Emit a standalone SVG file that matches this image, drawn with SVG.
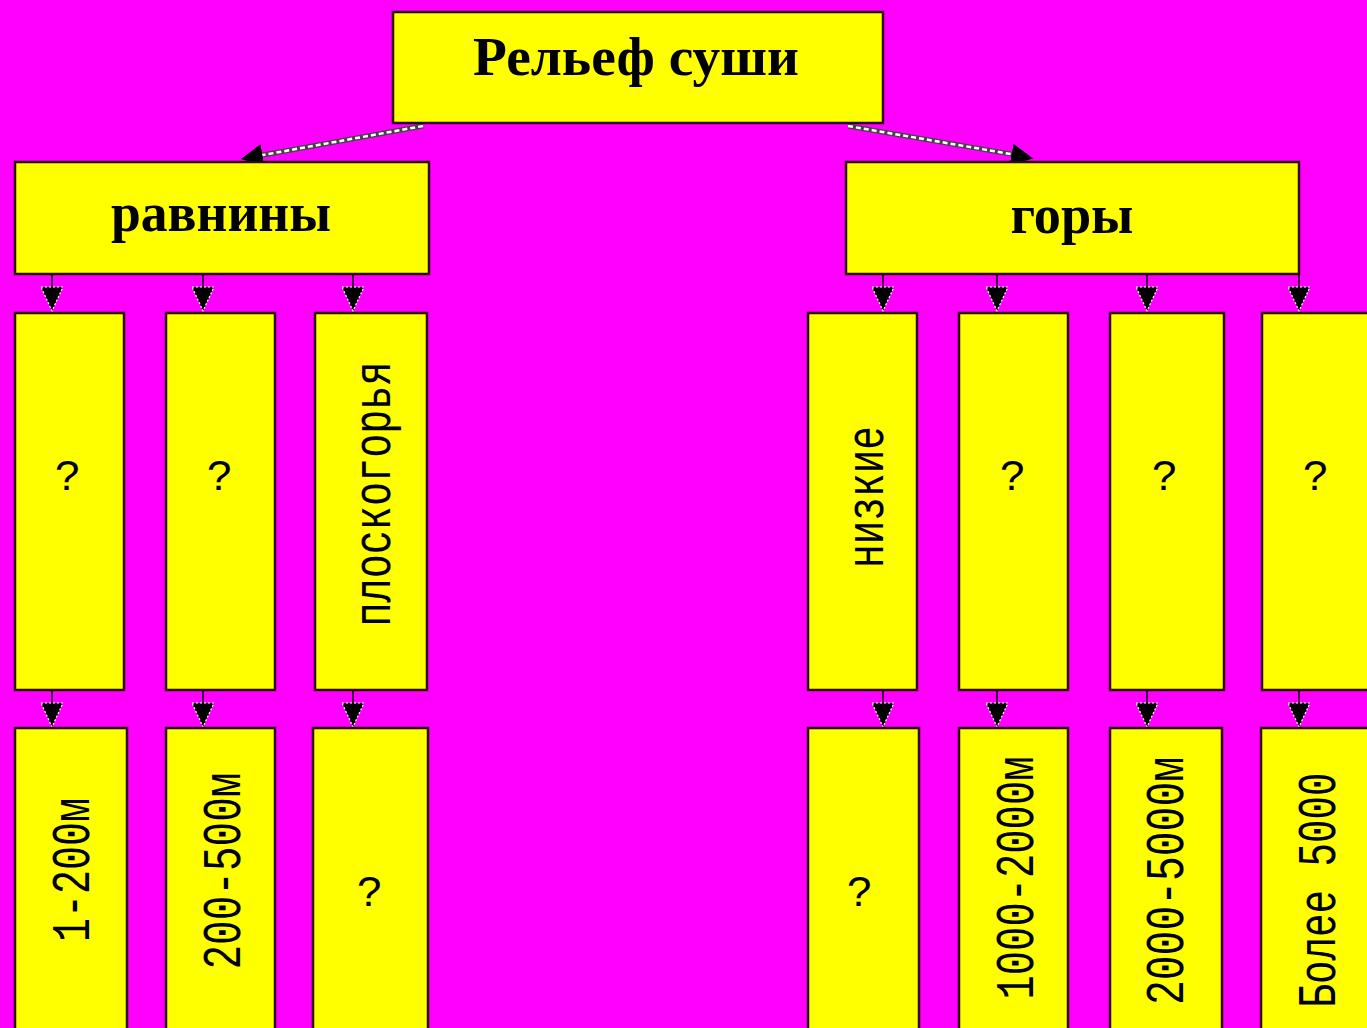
<svg xmlns="http://www.w3.org/2000/svg" width="1367" height="1028" viewBox="0 0 1367 1028">
<style>
.box{fill:#FFFF00;stroke:#2a0a10;stroke-width:2.5}
.h{font-family:"Liberation Serif","Times New Roman",serif;font-weight:bold;font-size:54px;fill:#000;text-anchor:middle}
.v{font-family:"Liberation Mono","Courier New",monospace;font-size:54px;fill:#000;text-anchor:middle}
.q{font-family:"Liberation Mono","Courier New",monospace;font-size:44px;fill:#000;text-anchor:middle}
.cl{stroke:#000;stroke-width:1.5}
.ah{fill:#000;stroke:#fff;stroke-width:1.2;stroke-dasharray:2 2}
.dl{stroke:#444;stroke-width:5}
.dw{stroke:#fff;stroke-width:2.5;stroke-dasharray:5 3}
</style>
<defs>
<marker id="tip" viewBox="0 0 10 10" refX="9" refY="5" markerWidth="22" markerHeight="22" markerUnits="userSpaceOnUse" orient="auto">
<path d="M0,0 L10,5 L0,10 z" fill="#000"/>
</marker>
</defs>
<rect x="0" y="0" width="1367" height="1028" fill="#FF00FF"/>

<g id="connectors">
<line class="dl" x1="423" y1="126" x2="252" y2="157"/>
<line class="dw" x1="423" y1="126" x2="252" y2="157"/>
<line x1="260" y1="155.5" x2="243" y2="158.5" stroke="#000" stroke-width="1" marker-end="url(#tip)"/>
<line class="dl" x1="848" y1="126" x2="1022" y2="156"/>
<line class="dw" x1="848" y1="126" x2="1022" y2="156"/>
<line x1="1014" y1="155" x2="1031" y2="158" stroke="#000" stroke-width="1" marker-end="url(#tip)"/>

<line class="cl" x1="52" y1="274" x2="52" y2="289"/><path class="ah" d="M41,287 L63,287 L52,311 z"/>
<line class="cl" x1="203" y1="274" x2="203" y2="289"/><path class="ah" d="M192,287 L214,287 L203,311 z"/>
<line class="cl" x1="353" y1="274" x2="353" y2="289"/><path class="ah" d="M342,287 L364,287 L353,311 z"/>
<line class="cl" x1="883" y1="274" x2="883" y2="289"/><path class="ah" d="M872,287 L894,287 L883,311 z"/>
<line class="cl" x1="997" y1="274" x2="997" y2="289"/><path class="ah" d="M986,287 L1008,287 L997,311 z"/>
<line class="cl" x1="1147" y1="274" x2="1147" y2="289"/><path class="ah" d="M1136,287 L1158,287 L1147,311 z"/>
<line class="cl" x1="1299" y1="274" x2="1299" y2="289"/><path class="ah" d="M1288,287 L1310,287 L1299,311 z"/>

<line class="cl" x1="52" y1="690" x2="52" y2="705"/><path class="ah" d="M41,703 L63,703 L52,727 z"/>
<line class="cl" x1="203" y1="690" x2="203" y2="705"/><path class="ah" d="M192,703 L214,703 L203,727 z"/>
<line class="cl" x1="353" y1="690" x2="353" y2="705"/><path class="ah" d="M342,703 L364,703 L353,727 z"/>
<line class="cl" x1="883" y1="690" x2="883" y2="705"/><path class="ah" d="M872,703 L894,703 L883,727 z"/>
<line class="cl" x1="997" y1="690" x2="997" y2="705"/><path class="ah" d="M986,703 L1008,703 L997,727 z"/>
<line class="cl" x1="1147" y1="690" x2="1147" y2="705"/><path class="ah" d="M1136,703 L1158,703 L1147,727 z"/>
<line class="cl" x1="1299" y1="690" x2="1299" y2="705"/><path class="ah" d="M1288,703 L1310,703 L1299,727 z"/>
</g>

<g id="root"><rect class="box" x="393" y="12" width="490" height="111"/><text class="h" x="636" y="75" textLength="326" lengthAdjust="spacingAndGlyphs">Рельеф суши</text></g>
<g id="plains"><rect class="box" x="15" y="162" width="414" height="112"/><text class="h" x="221" y="231" textLength="220" lengthAdjust="spacingAndGlyphs">равнины</text></g>
<g id="mountains"><rect class="box" x="846" y="162" width="453" height="112"/><text class="h" x="1072" y="233" textLength="123" lengthAdjust="spacingAndGlyphs">горы</text></g>

<g id="p1"><rect class="box" x="15" y="313" width="109" height="377"/><text class="q" x="68" y="490">?</text></g>
<g id="p2"><rect class="box" x="166" y="313" width="109" height="377"/><text class="q" x="220" y="490">?</text></g>
<g id="p3"><rect class="box" x="315" y="313" width="112" height="377"/><text class="v" transform="translate(390,494) rotate(-90)" textLength="265" lengthAdjust="spacingAndGlyphs">плоскогорья</text></g>
<g id="m1"><rect class="box" x="808" y="313" width="109" height="377"/><text class="v" transform="translate(883,497) rotate(-90)" textLength="142" lengthAdjust="spacingAndGlyphs">низкие</text></g>
<g id="m2"><rect class="box" x="959" y="313" width="109" height="377"/><text class="q" x="1013" y="490">?</text></g>
<g id="m3"><rect class="box" x="1110" y="313" width="114" height="377"/><text class="q" x="1165" y="490">?</text></g>
<g id="m4"><rect class="box" x="1262" y="313" width="120" height="377"/><text class="q" x="1316" y="490">?</text></g>

<g id="p1h"><rect class="box" x="15" y="728" width="112" height="320"/><text class="v" transform="translate(89,870) rotate(-90)" textLength="144" lengthAdjust="spacingAndGlyphs">1-200м</text></g>
<g id="p2h"><rect class="box" x="166" y="728" width="109" height="320"/><text class="v" transform="translate(240,871) rotate(-90)" textLength="197" lengthAdjust="spacingAndGlyphs">200-500м</text></g>
<g id="p3h"><rect class="box" x="313" y="728" width="115" height="320"/><text class="q" x="370" y="906">?</text></g>
<g id="m1h"><rect class="box" x="808" y="728" width="111" height="320"/><text class="q" x="860" y="906">?</text></g>
<g id="m2h"><rect class="box" x="959" y="728" width="109" height="320"/><text class="v" transform="translate(1033,878) rotate(-90)" textLength="243" lengthAdjust="spacingAndGlyphs">1000-2000м</text></g>
<g id="m3h"><rect class="box" x="1110" y="728" width="112" height="320"/><text class="v" transform="translate(1183,881) rotate(-90)" textLength="248" lengthAdjust="spacingAndGlyphs">2000-5000м</text></g>
<g id="m4h"><rect class="box" x="1261" y="728" width="121" height="320"/><text class="v" transform="translate(1335,890) rotate(-90)" textLength="235" lengthAdjust="spacingAndGlyphs">Более 5000</text></g>
</svg>
